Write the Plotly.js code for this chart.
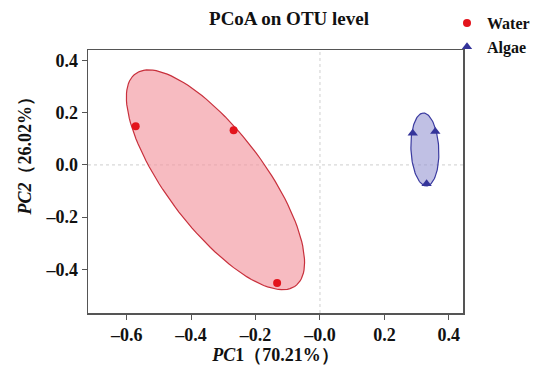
<!DOCTYPE html>
<html>
<head>
<meta charset="utf-8">
<script src="https://cdn.plot.ly/plotly-3.0.1.min.js"></script>
<style>html,body{margin:0;padding:0;background:#fff;}#chart{width:538px;height:371px;}</style>
</head>
<body>
<div id="chart"></div>
<script>
// Data
var groups = ['Water', 'Algae'];
var waterPC1 = [-0.572, -0.268, -0.133];
var waterPC2 = [0.148, 0.133, -0.452];
var algaePC1 = [0.288, 0.358, 0.331];
var algaePC2 = [0.121, 0.128, -0.072];
var xTicks = [-0.6, -0.4, -0.2, 0.0, 0.2, 0.4];
var xTickLabels = ['\u20130.6', '\u20130.4', '\u20130.2', '\u20130.0', '0.2', '0.4'];
var yTicks = [-0.4, -0.2, 0.0, 0.2, 0.4];
var yTickLabels = ['\u20130.4', '\u20130.2', '0.0', '0.2', '0.4'];
var xTitle = '<i>PC</i>1\uFF0870.21%\uFF09';
var yTitle = '<i>PC2</i>\uFF0826.02%\uFF09';
var chartTitle = 'PCoA on OTU level';

var ellipseScale = 1.23;

function ellipse(xs, ys, k) {
  var n = xs.length;
  var mx = xs.reduce(function(a,b){return a+b;},0)/n;
  var my = ys.reduce(function(a,b){return a+b;},0)/n;
  var sxx=0, syy=0, sxy=0;
  for (var i=0;i<n;i++){
    var dx=xs[i]-mx, dy=ys[i]-my;
    sxx+=dx*dx; syy+=dy*dy; sxy+=dx*dy;
  }
  sxx/=(n-1); syy/=(n-1); sxy/=(n-1);
  var tr = sxx+syy, det = sxx*syy-sxy*sxy;
  var l1 = tr/2 + Math.sqrt(tr*tr/4-det);
  var l2 = tr/2 - Math.sqrt(tr*tr/4-det);
  var theta = Math.atan2(l1-sxx, sxy);
  if (Math.abs(sxy) < 1e-12) theta = sxx>=syy ? 0 : Math.PI/2;
  var ex=[], ey=[];
  for (var j=0;j<=120;j++){
    var t = 2*Math.PI*j/120;
    var a = k*Math.sqrt(l1)*Math.cos(t), b = k*Math.sqrt(l2)*Math.sin(t);
    ex.push(mx + a*Math.cos(theta) - b*Math.sin(theta));
    ey.push(my + a*Math.sin(theta) + b*Math.cos(theta));
  }
  return {x:ex, y:ey};
}

var eW = ellipse(waterPC1, waterPC2, ellipseScale);
var eA = ellipse(algaePC1, algaePC2, ellipseScale);

var traces = [
  {x:eW.x, y:eW.y, mode:'lines', fill:'toself', fillcolor:'rgba(243,150,160,0.65)',
   line:{color:'#c8303c', width:1.2}, showlegend:false, hoverinfo:'skip'},
  {x:eA.x, y:eA.y, mode:'lines', fill:'toself', fillcolor:'rgba(150,150,210,0.6)',
   line:{color:'#3a3aa0', width:1.2}, showlegend:false, hoverinfo:'skip'},
  {x:waterPC1, y:waterPC2, mode:'markers', name:groups[0],
   marker:{symbol:'circle', size:8, color:'#e3141c'}},
  {x:algaePC1, y:algaePC2, mode:'markers', name:groups[1],
   marker:{symbol:'triangle-up', size:9, color:'#34349a'}}
];

var font = 'Liberation Serif, Times New Roman, serif';
var layout = {
  width:538, height:371,
  margin:{l:88, r:75, t:50, b:58, autoexpand:false},
  paper_bgcolor:'#fff', plot_bgcolor:'#fff',
  font:{family:font, color:'#111'},
  title:{text:chartTitle, font:{family:font, size:19, weight:'bold', color:'#111'},
         x:0.536, xref:'paper', xanchor:'center', y:0.951, yref:'container', yanchor:'middle'},
  xaxis:{range:[-0.72, 0.444], tickvals:xTicks, ticktext:xTickLabels,
         showgrid:false, zeroline:false, showline:true, mirror:true,
         linecolor:'#555', linewidth:1.5, ticks:'outside', ticklen:5, tickcolor:'#555',
         tickfont:{family:font, size:18, weight:'bold', color:'#111'},
         title:{text:xTitle, font:{family:font, size:18, weight:'bold', color:'#111'}, standoff:4}},
  yaxis:{range:[-0.567, 0.44], tickvals:yTicks, ticktext:yTickLabels,
         showgrid:false, zeroline:false, showline:true, mirror:true,
         linecolor:'#555', linewidth:1.5, ticks:'outside', ticklen:5, tickcolor:'#555',
         tickfont:{family:font, size:18, weight:'bold', color:'#111'}},
  annotations:[
    {text:yTitle, textangle:-90, xref:'paper', yref:'paper', x:-0.168, y:0.614,
     xanchor:'center', yanchor:'middle', showarrow:false,
     font:{family:font, size:18, weight:'bold', color:'#111'}}
  ],
  shapes:[
    {type:'line', xref:'x', yref:'paper', x0:0, x1:0, y0:0, y1:1, layer:'below',
     line:{color:'#cfcfcf', width:1, dash:'dot'}},
    {type:'line', xref:'paper', yref:'y', x0:0, x1:1, y0:0, y1:0, layer:'below',
     line:{color:'#cfcfcf', width:1, dash:'dot'}}
  ],
  showlegend:true,
  legend:{xref:'paper', xanchor:'left', yref:'container', yanchor:'top',
          bgcolor:'rgba(0,0,0,0)', font:{family:font, size:16, weight:'bold', color:'#111'},
          tracegroupgap:0, itemwidth:30}
};
layout.legend.x = (447-88)/375;
layout.legend.y = 1 - 6/371;

Plotly.newPlot('chart', traces, layout, {displayModeBar:false, staticPlot:true});
</script>
</body>
</html>
